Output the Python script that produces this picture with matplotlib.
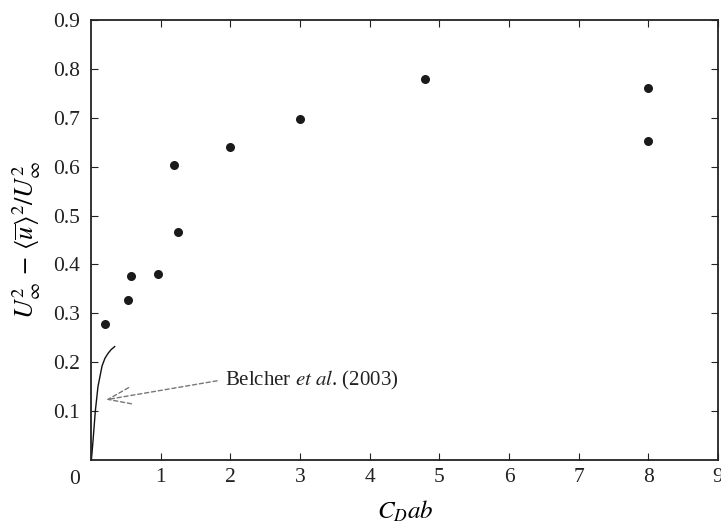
import matplotlib
matplotlib.use("Agg")
import matplotlib.pyplot as plt

plt.rcParams['font.family'] = ['Liberation Serif', 'DejaVu Serif']
plt.rcParams['mathtext.fontset'] = 'stix'

# Data
x_pts = [0.2, 0.53, 0.58, 0.96, 1.19, 1.25, 2.0, 3.0, 4.8, 8.0, 8.0]
y_pts = [0.278, 0.327, 0.376, 0.380, 0.603, 0.467, 0.640, 0.698, 0.780, 0.761, 0.652]

curve_x = [0.005, 0.014, 0.03, 0.062, 0.10, 0.158, 0.20, 0.244, 0.29, 0.34]
curve_y = [0.0, 0.014, 0.041, 0.10, 0.15, 0.192, 0.208, 0.218, 0.226, 0.232]

x_ticks = [1, 2, 3, 4, 5, 6, 7, 8, 9]
y_ticks = [0.1, 0.2, 0.3, 0.4, 0.5, 0.6, 0.7, 0.8, 0.9]

W, H = 721, 524
fig = plt.figure(figsize=(W / 100, H / 100), dpi=100)
ax = fig.add_axes([91 / W, (H - 460) / H, 627 / W, 440 / H])

ax.plot(x_pts, y_pts, 'o', color='#1a1a1a', markersize=6.5, markeredgewidth=0)
ax.plot(curve_x, curve_y, '-', color='#111111', linewidth=1.0)

ax.set_xlim(0, 9)
ax.set_ylim(0, 0.9)
ax.set_xticks(x_ticks)
ax.set_yticks(y_ticks)
ax.set_xticklabels([str(t) for t in x_ticks])
ax.set_yticklabels([f"{t:.1f}" for t in y_ticks])
ax.tick_params(direction='in', length=5, width=0.8, top=True, right=True,
               labelsize=15.5, colors='#222222')
ax.tick_params(axis='x', pad=6)
ax.tick_params(axis='y', pad=8)
for s in ax.spines.values():
    s.set_linewidth(1.3)
    s.set_color('#222222')

fig.text(75 / W, 1 - 479 / H, '0', ha='center', va='center',
         fontsize=15.5, color='#222222')

ax.set_xlabel(r'$C_D ab$', fontsize=18)
ax.xaxis.set_label_coords(0.502, -0.088)
ax.set_ylabel(r'$U_\infty^2\,-\,\langle\overline{u}\rangle^2/U_\infty^2$', fontsize=19)
ax.yaxis.set_label_coords(-0.076, 0.50)

# annotation with dashed open arrow
tip = (0.244, 0.124)
dash = dict(arrowstyle='-', linestyle=(0, (3, 2)), color='#777777', lw=1.0,
            shrinkA=0, shrinkB=0)
ax.annotate('', xy=tip, xytext=(1.81, 0.162), arrowprops=dash)
ax.annotate('', xy=tip, xytext=(0.54, 0.148), arrowprops=dash)
ax.annotate('', xy=tip, xytext=(0.58, 0.115), arrowprops=dash)
ax.text(1.93, 0.163, r'Belcher $\it{et\ al}$. (2003)', fontsize=15, color='#222222',
        ha='left', va='center')

fig.savefig('out.png', dpi=100)
